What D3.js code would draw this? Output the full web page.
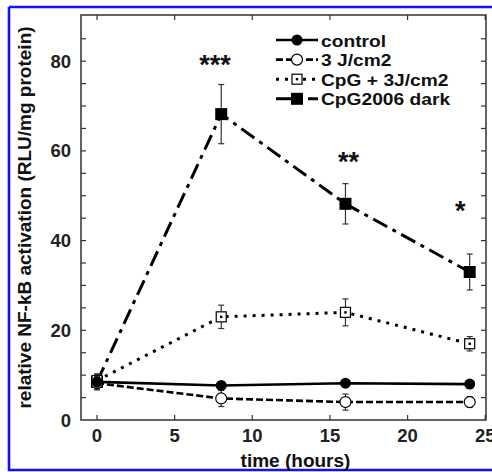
<!DOCTYPE html>
<html>
<head>
<meta charset="utf-8">
<script src="https://cdn.jsdelivr.net/npm/d3@7"></script>
<style>
  body { margin: 0; background: #fff; }
  svg { display: block; font-family: "Liberation Sans", Arial, sans-serif; }
</style>
</head>
<body>
<svg id="chart" width="492" height="472"></svg>
<script>
// hours
var times = [0, 8, 16, 24];

// series values (RLU/mg protein) and error bars
var controlVals = [8.5, 7.7, 8.2, 8.0];
var controlErr  = [1.2, 0.8, 0.8, 0.8];
var lightVals   = [8.2, 4.8, 4.0, 4.0];
var lightErr    = [1.5, 1.8, 1.8, 1.2];
var cpgLightVals = [8.8, 23.0, 24.0, 17.0];
var cpgLightErr  = [1.5, 2.6, 3.0, 1.6];
var cpgDarkVals = [8.5, 68.2, 48.2, 33.0];
var cpgDarkErr  = [1.6, 6.6, 4.5, 4.0];

var seriesNames = ["control", "3 J/cm2", "CpG + 3J/cm2", "CpG2006 dark"];

// significance stars above time points
var starLabels = ["***", "**", "*"];
var starTimes  = [7.6, 16.2, 23.4];
var starVals   = [80, 58.5, 47.5];

var xTicks = [0, 5, 10, 15, 20, 25];
var yTicks = [0, 20, 40, 60, 80];
var yMinor = d3.range(0, 91, 5);

var svg = d3.select("#chart");

// blue frame of the figure
svg.append("path")
  .attr("d", "M9,7 H495 M9,7 V470 H495")
  .attr("fill", "none")
  .attr("stroke", "#1010ff")
  .attr("stroke-width", 2.6);

var pLeft = 81, pRight = 486, pTop = 15, pBottom = 420;

var x = d3.scaleLinear().domain([-1.03, 25.05]).range([pLeft, pRight]);
var y = d3.scaleLinear().domain([0, 90.3]).range([pBottom, pTop]);

var axisColor = "#333";

// frame
svg.append("rect")
  .attr("x", pLeft).attr("y", pTop)
  .attr("width", pRight - pLeft).attr("height", pBottom - pTop)
  .attr("fill", "none").attr("stroke", axisColor).attr("stroke-width", 1.5);

// inward ticks on all four sides
var tickLen = 5;
var gAx = svg.append("g").attr("stroke", axisColor).attr("stroke-width", 1.2);
xTicks.forEach(function(t){
  gAx.append("line").attr("x1", x(t)).attr("x2", x(t)).attr("y1", pBottom).attr("y2", pBottom - tickLen);
  gAx.append("line").attr("x1", x(t)).attr("x2", x(t)).attr("y1", pTop).attr("y2", pTop + tickLen);
});
yMinor.forEach(function(t){
  if (t == 0 || t == 90) return;
  gAx.append("line").attr("x1", pLeft).attr("x2", pLeft + tickLen).attr("y1", y(t)).attr("y2", y(t));
  gAx.append("line").attr("x1", pRight).attr("x2", pRight - tickLen).attr("y1", y(t)).attr("y2", y(t));
});

// tick labels
svg.selectAll(".xl").data(xTicks).enter().append("text")
  .attr("x", function(d){ return x(d); })
  .attr("y", pBottom + 22)
  .attr("text-anchor", "middle")
  .attr("font-size", 18.5).attr("font-weight", "bold").attr("fill", "#222")
  .text(function(d){ return d; });

svg.selectAll(".yl").data(yTicks).enter().append("text")
  .attr("x", pLeft - 10)
  .attr("y", function(d){ return y(d) + 6.5; })
  .attr("text-anchor", "end")
  .attr("font-size", 18.5).attr("font-weight", "bold").attr("fill", "#222")
  .text(function(d){ return d; });

// axis titles
svg.append("text")
  .attr("x", (pLeft + pRight) / 2 + 12).attr("y", 467)
  .attr("text-anchor", "middle")
  .attr("font-size", 19).attr("font-weight", "bold").attr("fill", "#111")
  .text("time (hours)");

svg.append("text")
  .attr("transform", "translate(31," + ((pTop + pBottom) / 2) + ") rotate(-90)")
  .attr("text-anchor", "middle")
  .attr("font-size", 19).attr("font-weight", "bold").attr("fill", "#111")
  .text("relative NF-kB activation (RLU/mg protein)");

var styles = [
  { vals: controlVals, err: controlErr, dash: null, width: 2.6, marker: "fcircle" },
  { vals: lightVals, err: lightErr, dash: "7,3", width: 2.6, marker: "ocircle" },
  { vals: cpgLightVals, err: cpgLightErr, dash: "3,6", width: 3, marker: "osquare" },
  { vals: cpgDarkVals, err: cpgDarkErr, dash: "16,6,4,6", width: 3, marker: "fsquare" }
];

function drawMarker(g, kind, cx, cy) {
  if (kind == "fcircle") {
    g.append("circle").attr("cx", cx).attr("cy", cy).attr("r", 5.5).attr("fill", "#000");
  } else if (kind == "ocircle") {
    g.append("circle").attr("cx", cx).attr("cy", cy).attr("r", 5.5)
      .attr("fill", "#fff").attr("stroke", "#000").attr("stroke-width", 1.2);
  } else if (kind == "osquare") {
    g.append("rect").attr("x", cx - 5).attr("y", cy - 5).attr("width", 10).attr("height", 10)
      .attr("fill", "#fff").attr("stroke", "#000").attr("stroke-width", 1.2);
    g.append("rect").attr("x", cx - 1.2).attr("y", cy - 1.2).attr("width", 2.4).attr("height", 2.4).attr("fill", "#000");
  } else {
    g.append("rect").attr("x", cx - 6).attr("y", cy - 6).attr("width", 12).attr("height", 12).attr("fill", "#000");
  }
}

var line = d3.line()
  .x(function(d){ return x(d[0]); })
  .y(function(d){ return y(d[1]); });

// lines first
[3, 2, 1, 0].forEach(function(i){
  var s = styles[i];
  var pts = times.map(function(t, k){ return [t, s.vals[k]]; });
  svg.append("path")
    .attr("d", line(pts))
    .attr("fill", "none")
    .attr("stroke", "#000")
    .attr("stroke-width", s.width)
    .attr("stroke-dasharray", s.dash);
});

// error bars and markers
[3, 2, 1, 0].forEach(function(i){
  var s = styles[i];
  var g = svg.append("g");
  times.forEach(function(t, k){
    var cx = x(t);
    var hi = y(s.vals[k] + s.err[k]), lo = y(s.vals[k] - s.err[k]);
    g.append("line").attr("x1", cx).attr("x2", cx).attr("y1", hi).attr("y2", lo)
      .attr("stroke", "#333").attr("stroke-width", 1.2);
    g.append("line").attr("x1", cx - 3).attr("x2", cx + 3).attr("y1", hi).attr("y2", hi)
      .attr("stroke", "#333").attr("stroke-width", 1.2);
    g.append("line").attr("x1", cx - 3).attr("x2", cx + 3).attr("y1", lo).attr("y2", lo)
      .attr("stroke", "#333").attr("stroke-width", 1.2);
    drawMarker(g, s.marker, cx, y(s.vals[k]));
  });
});

// significance stars
starLabels.forEach(function(lbl, i){
  svg.append("text")
    .attr("x", x(starTimes[i])).attr("y", y(starVals[i]) + 13)
    .attr("text-anchor", "middle")
    .attr("font-size", 27).attr("font-weight", "bold").attr("fill", "#111")
    .text(lbl);
});

// legend (text is a bit wider than Liberation, so stretch horizontally)
var legX0 = 276, legX1 = 318, legY = 40, legStep = 19.6;
seriesNames.forEach(function(name, i){
  var s = styles[i];
  var ly = legY + i * legStep;
  svg.append("line")
    .attr("x1", legX0).attr("x2", legX1).attr("y1", ly).attr("y2", ly)
    .attr("stroke", "#000").attr("stroke-width", s.width)
    .attr("stroke-dasharray", s.dash);
  drawMarker(svg.append("g"), s.marker, (legX0 + legX1) / 2, ly);
  svg.append("text")
    .attr("transform", "translate(" + (legX1 + 3) + "," + (ly + 6.5) + ") scale(1.13,1)")
    .attr("font-size", 17).attr("font-weight", "bold").attr("fill", "#111")
    .text(name);
});
</script>
</body>
</html>
